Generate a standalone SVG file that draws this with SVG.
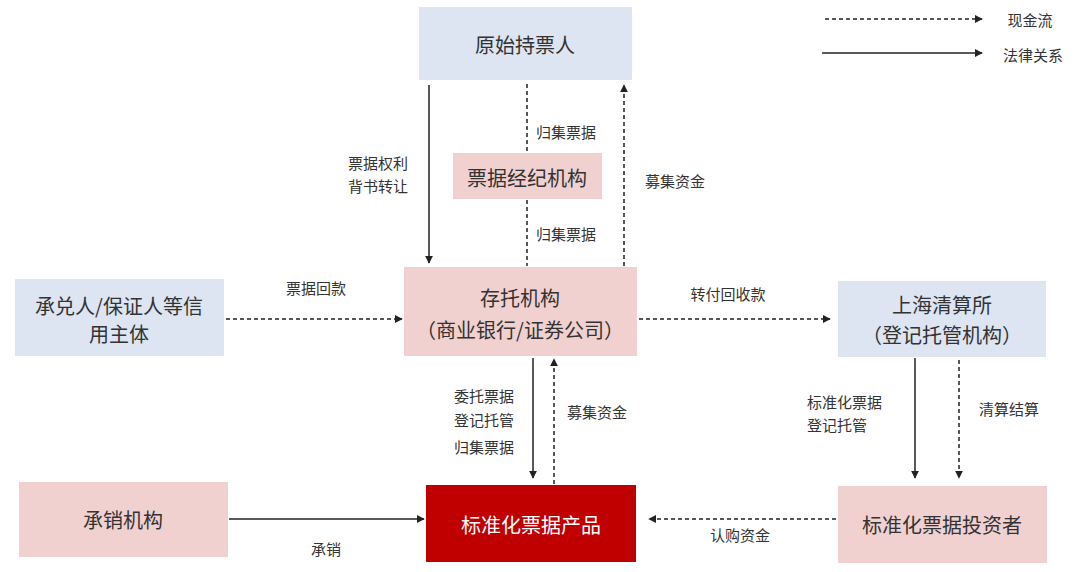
<svg xmlns="http://www.w3.org/2000/svg" width="1080" height="572" viewBox="0 0 1080 572">
<defs>
<marker id="ah" viewBox="0 0 10 10" refX="9" refY="5" markerWidth="8" markerHeight="8" markerUnits="userSpaceOnUse" orient="auto"><path d="M0,0 L10,5 L0,10 z" fill="#222"/></marker>
<style>
text{font-family:"Noto Sans CJK SC","Noto Sans",sans-serif;fill:#333;text-anchor:middle;dominant-baseline:central}
.nt{font-size:20px}
.lb{font-size:15px}
.st{text-anchor:start}
.blue{fill:#dce5f1}
.pink{fill:#f1d1d0}
.red{fill:#c00000}
.s{stroke:#222;stroke-width:1.5;fill:none;marker-end:url(#ah)}
.d{stroke:#222;stroke-width:1.5;fill:none;stroke-dasharray:4,3;marker-end:url(#ah)}
.dn{stroke:#222;stroke-width:1.5;fill:none;stroke-dasharray:4,3}
</style>
</defs>
<rect width="1080" height="572" fill="#fff"/>
<g id="connectors">
<line class="s" x1="429" y1="85" x2="429" y2="263"/>
<line class="dn" x1="527" y1="84" x2="527" y2="153"/>
<line class="dn" x1="527" y1="200" x2="527" y2="266"/>
<line class="d" x1="624" y1="266" x2="624" y2="85"/>
<line class="d" x1="226" y1="319" x2="402" y2="319"/>
<line class="d" x1="639" y1="319" x2="830" y2="319"/>
<line class="s" x1="533" y1="358" x2="533" y2="478"/>
<line class="d" x1="554" y1="484" x2="554" y2="359"/>
<line class="s" x1="915" y1="358" x2="915" y2="478"/>
<line class="d" x1="959" y1="360" x2="959" y2="478"/>
<line class="d" x1="836" y1="519" x2="649" y2="519"/>
<line class="s" x1="229" y1="519" x2="424" y2="519"/>
<line class="d" x1="825" y1="19" x2="982" y2="19"/>
<line class="s" x1="822" y1="53" x2="982" y2="53"/>
</g>
<g id="labels">
<text class="lb" x="378" y="162">票据权利</text>
<text class="lb" x="378" y="185">背书转让</text>
<text class="lb" x="566" y="131">归集票据</text>
<text class="lb" x="566" y="233">归集票据</text>
<text class="lb" x="675" y="180">募集资金</text>
<text class="lb" x="316" y="287">票据回款</text>
<text class="lb" x="728" y="293">转付回收款</text>
<text class="lb" x="484" y="395">委托票据</text>
<text class="lb" x="484" y="419">登记托管</text>
<text class="lb" x="484" y="446">归集票据</text>
<text class="lb" x="597" y="411">募集资金</text>
<text class="lb st" x="807" y="401">标准化票据</text>
<text class="lb st" x="807" y="424">登记托管</text>
<text class="lb" x="1009" y="408">清算结算</text>
<text class="lb" x="740" y="534">认购资金</text>
<text class="lb" x="326" y="548">承销</text>
<text class="lb" x="1030" y="19">现金流</text>
<text class="lb" x="1033" y="54">法律关系</text>
</g>
<g id="n1"><rect class="blue" x="419" y="7" width="213" height="73"/><text class="nt" x="525" y="44">原始持票人</text></g>
<g id="n2"><rect class="pink" x="453" y="153" width="149" height="46"/><text class="nt" x="527" y="177">票据经纪机构</text></g>
<g id="n3"><rect class="blue" x="15" y="279" width="209" height="77"/><text class="nt" x="119" y="305">承兑人/保证人等信</text><text class="nt" x="119" y="333">用主体</text></g>
<g id="n4"><rect class="pink" x="404" y="267" width="233" height="89"/><text class="nt" x="520" y="297">存托机构</text><text class="nt" x="520" y="329">（商业银行/证券公司）</text></g>
<g id="n5"><rect class="blue" x="838" y="281" width="208" height="76"/><text class="nt" x="942" y="304">上海清算所</text><text class="nt" x="942" y="334">（登记托管机构）</text></g>
<g id="n6"><rect class="red" x="426" y="485" width="210" height="77"/><text class="nt" x="531" y="524" style="fill:#fff">标准化票据产品</text></g>
<g id="n7"><rect class="pink" x="838" y="486" width="209" height="77"/><text class="nt" x="942" y="524">标准化票据投资者</text></g>
<g id="n8"><rect class="pink" x="19" y="482" width="209" height="75"/><text class="nt" x="123" y="519">承销机构</text></g>
</svg>
